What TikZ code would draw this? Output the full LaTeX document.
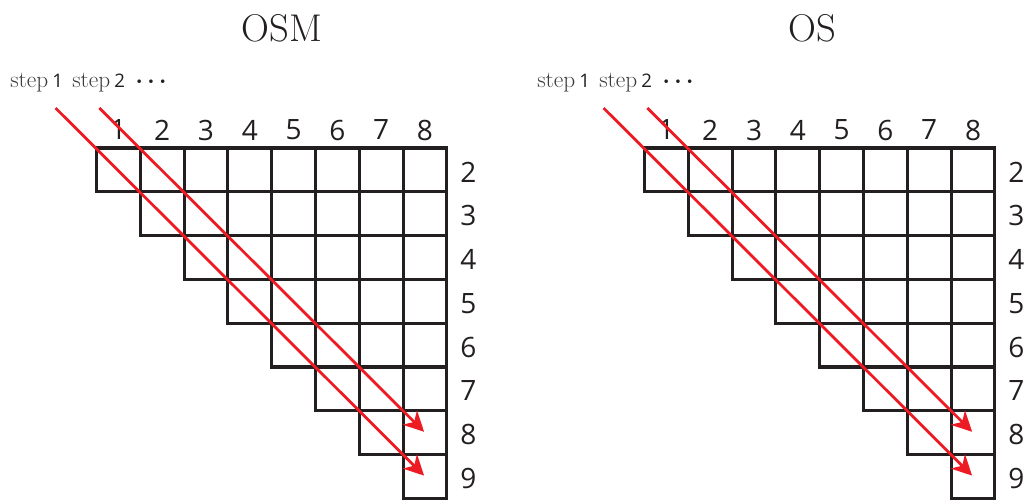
\documentclass[tikz,border=0pt]{standalone}
\usepackage{fontspec}
\newfontfamily\digitfont{Open Sans}
\usetikzlibrary{arrows.meta}
\definecolor{GridInk}{HTML}{231F20}
\definecolor{StepRed}{HTML}{ED1C24}
\definecolor{StepGray}{HTML}{3A3A3A}
\tikzset{
  cell/.style={draw=GridInk,line width=2.3pt,minimum size=32.85pt,inner sep=0pt,outer sep=0pt},
  steparrow/.style={-{Stealth[length=15pt,width=15pt,inset=4.5pt]},StepRed,line width=2.1pt},
  colnum/.style={text=GridInk,font=\digitfont\fontsize{21}{24}\selectfont,inner sep=0pt},
  rownum/.style={colnum},
  panelhead/.style={text=GridInk,font=\fontsize{29}{33}\selectfont,inner sep=0pt},
  steplabel/.style={text=StepGray,font=\fontsize{17.5}{19}\selectfont,inner sep=0pt,anchor=base west},
}
\newcommand{\stepnum}[1]{{\digitfont\fontsize{14}{16}\selectfont\color{GridInk}#1}}

\begin{document}
\begin{tikzpicture}[x=0.75pt,y=-0.75pt]
  \useasboundingbox (0,0) rectangle (1025,500);
  \def\cs{43.8}
  \def\gtop{148}
  \foreach \side/\ox/\tx/\sx/\title in {L/96.5/282/10/OSM,R/644.5/812/537/OS}{
    % heading and step legend
    \node[panelhead] (\side-head) at (\tx,28) {\title};
    \node[steplabel] (\side-steps) at (\sx,87)
      {step\hspace{3pt}\stepnum{1}\hspace{7pt}step\hspace{3pt}\stepnum{2}\hspace{8pt}{\color{GridInk}\boldmath$\cdots$}};
    % cells
    \foreach \r in {2,...,9}{
      \pgfmathtruncatemacro\first{\r-1}
      \foreach \c in {\first,...,8}
        \node[cell] (\side-\r-\c) at ({\ox+(\c-0.5)*\cs},{\gtop+(\r-1.5)*\cs}) {};
      \node[rownum] (\side-row-\r) at ({\ox+8*\cs+21.5},{\gtop+(\r-1.5)*\cs+2}) {\r};
    }
    \foreach \c in {1,...,8}
      \node[colnum] (\side-col-\c) at ({\ox+(\c-0.5)*\cs},130) {\c};
    % step arrows
    \coordinate (\side-s1) at ({\ox-41},{\gtop-40});
    \coordinate (\side-e1) at ({\ox+7*\cs+21},{\gtop+7*\cs+21});
    \coordinate (\side-s2) at ({\ox+\cs-41},{\gtop-40});
    \coordinate (\side-e2) at ({\ox+7*\cs+21},{\gtop+6*\cs+21});
    \draw[steparrow] (\side-s1) -- (\side-e1);
    \draw[steparrow] (\side-s2) -- (\side-e2);
  }
\end{tikzpicture}
\end{document}
